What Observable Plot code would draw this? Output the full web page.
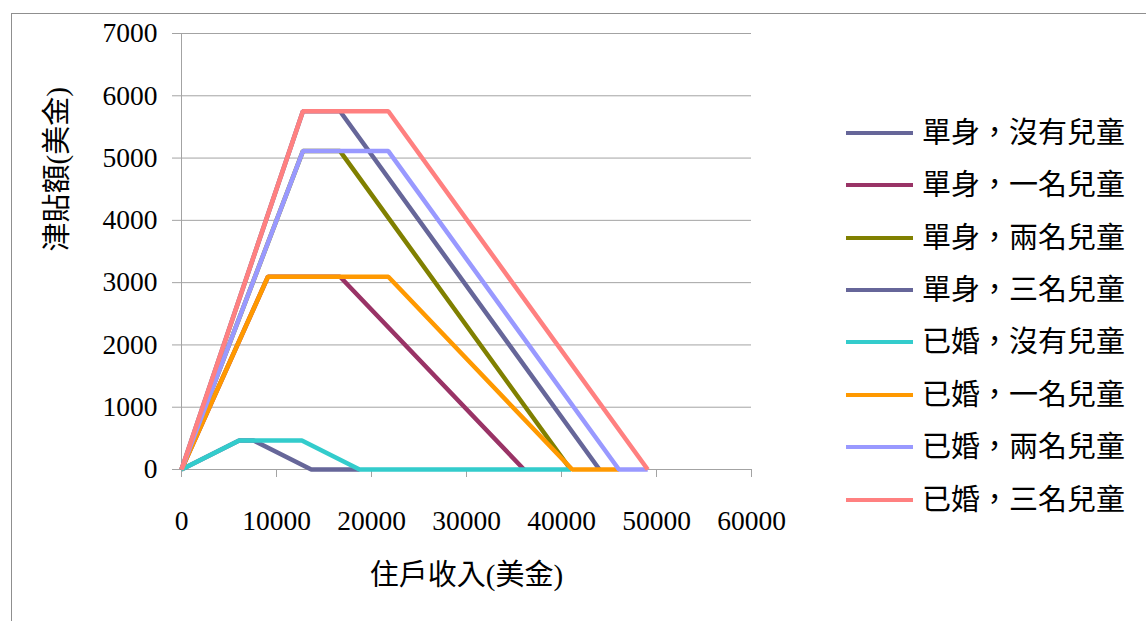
<!DOCTYPE html>
<html>
<head>
<meta charset="utf-8">
<script src="https://cdn.jsdelivr.net/npm/d3@7"></script>
<script src="https://cdn.jsdelivr.net/npm/@observablehq/plot@0.6"></script>
<style>
  body { margin: 0; background: #fff; }
  #wrap { position: relative; width: 1146px; height: 621px; overflow: hidden; background: #fff; }
  #frame { position: absolute; left: 11px; top: 13px; width: 1300px; height: 800px; border: 1px solid #8f8f8f; box-sizing: border-box; }
  #chart { position: absolute; left: 0; top: 0; }
  #chart svg text { font-family: "Times New Roman", "Liberation Serif", "DejaVu Serif", "Noto Sans CJK TC", serif; }
  #legend { position: absolute; left: 846px; top: 0; font-family: "Times New Roman", "Liberation Serif", "DejaVu Serif", "Noto Sans CJK TC", serif; font-size: 29px; color: #000; }
  .item { position: absolute; left: 0; height: 40px; width: 300px; }
  .swatch { position: absolute; left: 0; width: 67px; height: 4px; }
  .label { position: absolute; left: 76px; white-space: nowrap; line-height: 1; }
</style>
</head>
<body>
<div id="wrap">
  <div id="frame"></div>
  <div id="chart"></div>
  <div id="legend"></div>
</div>
<script>
// Household type for each series
const seriesNames = [
  "單身，沒有兒童", "單身，一名兒童", "單身，兩名兒童", "單身，三名兒童",
  "已婚，沒有兒童", "已婚，一名兒童", "已婚，兩名兒童", "已婚，三名兒童"
];
const seriesColors = [
  "#666699", "#993366", "#808000", "#666699",
  "#33CCCC", "#FF9900", "#9999FF", "#FF8080"
];

// Income (USD) at each break point of a series
const incomeSingle0 = [0, 6070, 7590, 13660, 18740];
const incomeSingle1 = [0, 9100, 16690, 36052];
const incomeSingle2 = [0, 12780, 16690, 40964];
const incomeSingle3 = [0, 12780, 16690, 43998];
const incomeMarried0 = [0, 6070, 12670, 18740, 41000];
const incomeMarried1 = [0, 9100, 21770, 41132, 46044];
const incomeMarried2 = [0, 12780, 21770, 46044, 49078];
const incomeMarried3 = [0, 12780, 21770, 49078];

// Credit (USD) at those income points
const creditSingle0 = [0, 464, 464, 0, 0];
const creditSingle1 = [0, 3094, 3094, 0];
const creditSingle2 = [0, 5112, 5112, 0];
const creditSingle3 = [0, 5751, 5751, 0];
const creditMarried0 = [0, 464, 464, 0, 0];
const creditMarried1 = [0, 3094, 3094, 0, 0];
const creditMarried2 = [0, 5112, 5112, 0, 0];
const creditMarried3 = [0, 5751, 5751, 0];

const xTicks = [0, 10000, 20000, 30000, 40000, 50000, 60000];
const yTicks = [0, 1000, 2000, 3000, 4000, 5000, 6000, 7000];

const incomes = [incomeSingle0, incomeSingle1, incomeSingle2, incomeSingle3,
                 incomeMarried0, incomeMarried1, incomeMarried2, incomeMarried3];
const credits = [creditSingle0, creditSingle1, creditSingle2, creditSingle3,
                 creditMarried0, creditMarried1, creditMarried2, creditMarried3];

const rows = [];
seriesNames.forEach((name, i) => {
  incomes[i].forEach((x, j) => rows.push({series: name, income: x, credit: credits[i][j]}));
});

const gridColor = "#a3a3a3";
const textFont = "'Times New Roman', 'Liberation Serif', 'DejaVu Serif', 'Noto Sans CJK TC', serif";

const chart = Plot.plot({
  width: 1146,
  height: 621,
  marginLeft: 181,
  marginRight: 395,
  marginTop: 33,
  marginBottom: 152,
  style: { fontFamily: textFont, fontSize: "27.5px", color: "#000", background: "transparent", overflow: "visible" },
  x: { domain: [0, 60000] },
  y: { domain: [0, 7000] },
  color: { domain: seriesNames, range: seriesColors },
  marks: [
    Plot.gridY(yTicks, { stroke: gridColor, strokeOpacity: 1 }),
    Plot.ruleX([0], { stroke: gridColor, y1: 0, y2: 7000 }),
    Plot.axisY(yTicks, { tickSize: 9, tickPadding: 15, stroke: gridColor, strokeOpacity: 1, tickFormat: d => String(d), label: null }),
    Plot.axisX(xTicks, { tickSize: 8, tickPadding: 33, stroke: gridColor, strokeOpacity: 1, tickFormat: d => String(d), label: null }),
    Plot.ruleY([0], { stroke: gridColor, x1: 0, x2: 60000 }),
    Plot.line(rows, { x: "income", y: "credit", z: "series", stroke: "series", strokeWidth: 4.5, strokeLinejoin: "miter", strokeLinecap: "butt" }),
    Plot.text(["津貼額(美金)"], { text: d => d, frameAnchor: "left", dx: -124, rotate: -90, fontFamily: textFont, fontSize: 29, fill: "#000" }),
    Plot.text(["住戶收入(美金)"], { text: d => d, frameAnchor: "bottom", dy: 115, fontFamily: textFont, fontSize: 29, fill: "#000" })
  ]
});
document.getElementById("chart").appendChild(chart);

// Legend at the right of the plot
const legend = document.getElementById("legend");
seriesNames.forEach((name, i) => {
  const cy = 132.7 + i * 52.4;
  const item = document.createElement("div");
  item.className = "item";
  item.style.top = (cy - 20) + "px";
  const sw = document.createElement("div");
  sw.className = "swatch";
  sw.style.top = "18px";
  sw.style.background = seriesColors[i];
  const lb = document.createElement("div");
  lb.className = "label";
  lb.style.top = "6px";
  lb.textContent = name;
  item.appendChild(sw);
  item.appendChild(lb);
  legend.appendChild(item);
});
</script>
</body>
</html>
